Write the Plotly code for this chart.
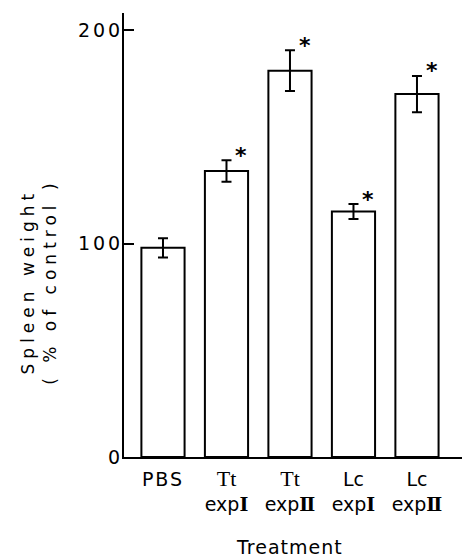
import plotly.graph_objects as go

categories = ["PBS", "Tt expI", "Tt expII", "Lc expI", "Lc expII"]
SER = '<span style="font-family:Liberation Serif;font-size:22px">%s</span>'
NUM = '<span style="font-family:DejaVu Serif"><b>%s</b></span>'
tick_labels = [
    '<span style="letter-spacing:2px">PBS</span><br> ',
    SER % "Tt" + "<br>exp" + NUM % "\u2160",
    SER % "Tt" + "<br>exp" + NUM % "\u2161",
    "Lc<br>exp" + NUM % "\u2160",
    "Lc<br>exp" + NUM % "\u2161",
]
values = [98, 134, 181, 115, 170]
errors = [4.5, 5, 9.5, 3.5, 8.5]
significant = [False, True, True, True, True]
y_ticks = [0, 100, 200]

xs = list(range(len(categories)))

fig = go.Figure()
fig.add_trace(go.Bar(
    x=xs, y=values, width=0.68,
    marker=dict(color="white", line=dict(color="black", width=2)),
    error_y=dict(type="data", array=errors, visible=True, color="black", thickness=2, width=5),
    showlegend=False,
))

for x, v, e, s in zip(xs, values, errors, significant):
    if s:
        fig.add_annotation(x=x, y=v + e, text="<b>*</b>", showarrow=False, xshift=15, yshift=5,
                           font=dict(family="DejaVu Sans", size=22, color="black"),
                           xanchor="center", yanchor="middle")

fig.add_annotation(xref="paper", yref="paper", x=-0.254, y=0.395,
                   text='<span style="letter-spacing:5px">Spleen weight<br>( % of control )</span>',
                   textangle=-90, showarrow=False, xanchor="center", yanchor="middle",
                   font=dict(family="DejaVu Sans", size=17, color="black"))
fig.add_annotation(xref="paper", yref="paper", x=0.491, y=-0.203,
                   text='<span style="letter-spacing:1px">Treatment</span>',
                   showarrow=False, xanchor="center", yanchor="middle",
                   font=dict(family="DejaVu Sans", size=19, color="black"))

fig.update_layout(
    width=462, height=560,
    margin=dict(l=124, r=0, t=13, b=103),
    paper_bgcolor="white", plot_bgcolor="white",
    xaxis=dict(range=[-0.614, 4.709], tickvals=xs, ticktext=tick_labels,
               showline=True, linecolor="black", linewidth=2, ticks="",
               showgrid=False, zeroline=False, ticklabelstandoff=4,
               tickfont=dict(family="DejaVu Sans", size=19, color="black")),
    yaxis=dict(range=[0, 208], tickvals=y_ticks,
               ticktext=['<span style="letter-spacing:3px">%d</span>' % t for t in y_ticks],
               showline=True, linecolor="black", linewidth=2, ticks="inside", ticklen=10,
               tickwidth=2, tickcolor="black", showgrid=False, zeroline=False,
               ticklabelstandoff=-5,
               tickfont=dict(family="DejaVu Sans", size=19, color="black")),
)

fig.write_html("out.html")
